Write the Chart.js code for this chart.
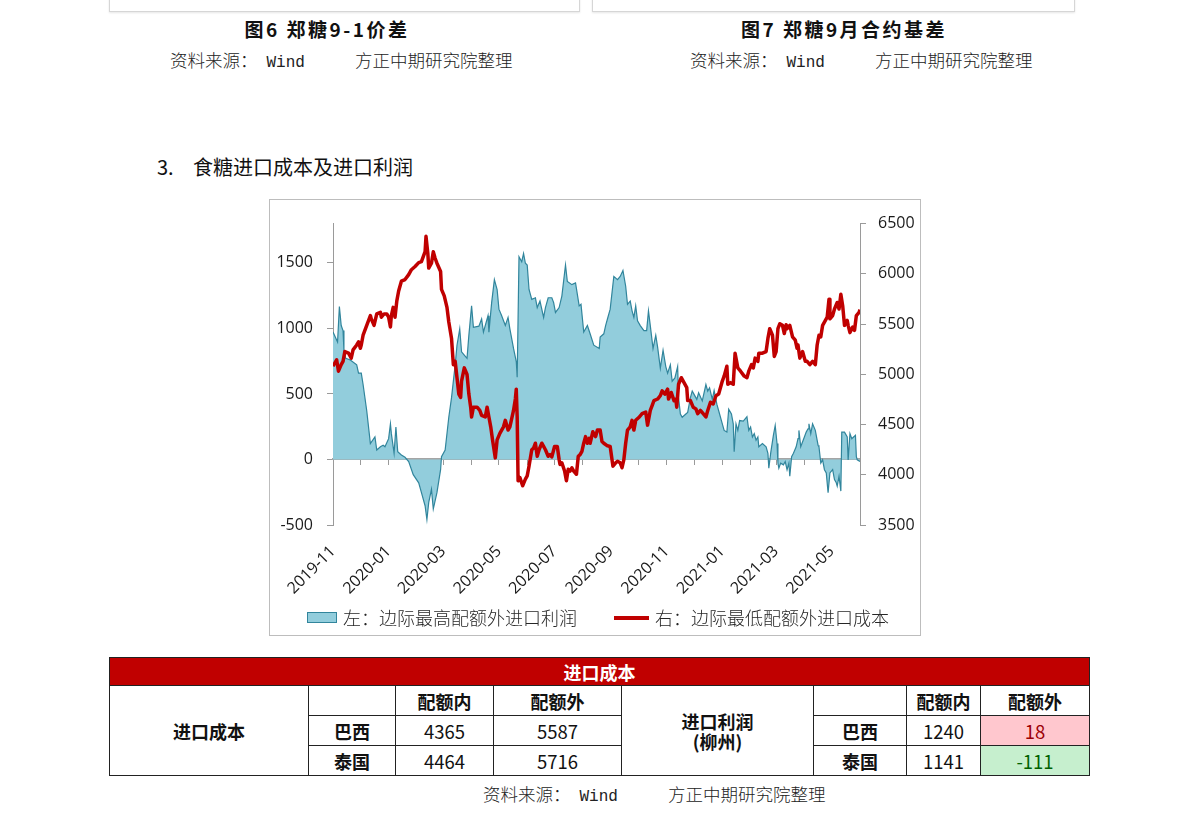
<!DOCTYPE html>
<html>
<head>
<meta charset="utf-8">
<script src="https://cdn.jsdelivr.net/npm/chart.js@4.4.1/dist/chart.umd.min.js"></script>
<style>
	body { margin: 0; width: 1191px; height: 824px; background: #fff; position: relative; overflow: hidden;
		font-family: "Noto Sans CJK SC", sans-serif; color: #111; }
	.frame { position: absolute; border: 1px solid #d6d6d6; box-shadow: 0 1px 2px rgba(0,0,0,0.10); }
	.cap { position: absolute; width: 300px; text-align: center; font-weight: bold; font-size: 19px;
		letter-spacing: 2.5px; line-height: 22px; white-space: pre; }
	.src { position: absolute; font-size: 17.5px; font-weight: 300; line-height: 22px; white-space: pre; color: #222; }
	.mono { font-family: "Liberation Mono", monospace; font-size: 16px; margin-left: 9px; }
	.gap { display: inline-block; width: 50px; }
	.head { position: absolute; top: 155px; font-size: 20px; line-height: 24px; white-space: pre; }
	#box { position: absolute; left: 269px; top: 199px; width: 650px; height: 435px; border: 1px solid #bdbdbd; }
	.lg { position: absolute; font-size: 18px; font-weight: 300; line-height: 22px; color: #262626; white-space: pre; }
	table { position: absolute; left: 109px; top: 657px; width: 980px; border-collapse: collapse; table-layout: fixed; }
	td { border: 1px solid #222; text-align: center; font-size: 18.5px; padding: 0; height: 29px; line-height: 20px; }
	td.b { font-weight: bold; font-size: 18px; }
	td.title { background: #c00000; color: #fff; font-weight: bold; font-size: 18px; height: 27px; }
	td.pink { background: #ffc7ce; color: #9c0006; }
	td.green { background: #c6efce; color: #006100; }
</style>
</head>
<body>

<div class="frame" style="left:109px;top:-20px;width:469px;height:30px;"></div>
<div class="frame" style="left:592px;top:-20px;width:481px;height:30px;"></div>

<div class="cap" style="left:177px;top:18px;">图6 郑糖9-1价差</div>
<div class="src" style="left:170px;top:49px;">资料来源：<span class="mono">Wind</span><span class="gap"> </span>方正中期研究院整理</div>
<div class="cap" style="left:694px;top:18px;">图7 郑糖9月合约基差</div>
<div class="src" style="left:690px;top:49px;">资料来源：<span class="mono">Wind</span><span class="gap"> </span>方正中期研究院整理</div>

<div class="head" style="left:157px;">3.</div>
<div class="head" style="left:193px;">食糖进口成本及进口利润</div>

<div id="box"><canvas id="chart" width="650" height="435"></canvas></div>

<!-- legend -->
<div style="position:absolute;left:307px;top:612px;width:30px;height:11px;box-sizing:border-box;background:#92cddc;border:1px solid #31859c;"></div>
<div class="lg" style="left:343px;top:606px;">左：边际最高配额外进口利润</div>
<div style="position:absolute;left:614px;top:616px;width:35px;height:4px;background:#c00000;"></div>
<div class="lg" style="left:655px;top:606px;">右：边际最低配额外进口成本</div>

<table>
	<colgroup>
		<col style="width:199px"><col style="width:87px"><col style="width:98px"><col style="width:128px">
		<col style="width:192px"><col style="width:93px"><col style="width:74px"><col style="width:109px">
	</colgroup>
	<tr><td class="title" colspan="8">进口成本</td></tr>
	<tr>
		<td class="b" rowspan="3">进口成本</td><td></td><td class="b">配额内</td><td class="b">配额外</td>
		<td class="b" rowspan="3">进口利润<br>(柳州)</td><td></td><td class="b">配额内</td><td class="b">配额外</td>
	</tr>
	<tr><td class="b">巴西</td><td>4365</td><td>5587</td><td class="b">巴西</td><td>1240</td><td class="pink">18</td></tr>
	<tr><td class="b">泰国</td><td>4464</td><td>5716</td><td class="b">泰国</td><td>1141</td><td class="green">-111</td></tr>
</table>

<div class="src" style="left:483px;top:783px;">资料来源：<span class="mono">Wind</span><span class="gap"> </span>方正中期研究院整理</div>

<script>
// x values are days counted from 2019-11-01
var monthDays = [0, 30, 61, 92, 121, 152, 182, 213, 243, 274, 305, 335, 366, 396, 427, 458, 486, 517, 547, 578];
var labelDays = [0, 61, 121, 182, 243, 305, 366, 427, 486, 547];
var xTickLabels = ['2019-11', '2020-01', '2020-03', '2020-05', '2020-07', '2020-09', '2020-11', '2021-01', '2021-03', '2021-05'];
var leftTicks = [-500, 0, 500, 1000, 1500];
var rightTicks = [3500, 4000, 4500, 5000, 5500, 6000, 6500];

// 左：边际最高配额外进口利润
var profitDays = [0,5,7,9,11,12,14,19,26,28,31,33,37,41,46,48,52,55,57,61,63,64,67,69,71,75,79,83,88,94,97,101,103,105,108,110,114,118,119,123,127,130,134,136,139,141,144,147,149,152,154,160,163,165,170,171,174,177,180,182,185,189,192,194,198,201,202,204,207,209,211,213,215,218,222,224,227,231,233,236,240,242,244,248,251,255,257,262,266,270,272,275,279,282,286,292,293,297,299,301,304,308,312,315,318,321,323,326,328,330,332,334,337,341,344,346,348,351,354,356,359,362,365,367,370,372,375,378,379,381,383,387,389,392,394,396,399,401,405,409,411,413,416,418,421,423,427,429,432,434,437,439,440,442,444,446,450,454,456,458,460,462,464,466,467,471,475,477,478,480,483,485,487,488,489,491,494,496,498,500,501,503,505,508,510,511,513,517,519,521,522,524,526,529,532,533,535,537,539,541,543,545,548,550,552,553,555,557,558,561,564,565,567,569,571,573,574,575,578];
var profitValues = [972,897,1167,1022,984,830,772,759,722,659,659,572,372,122,172,72,97,109,97,159,272,197,47,247,59,34,17,-16,-116,-178,-253,-353,-458,-328,-228,-378,-253,-78,22,72,322,472,722,872,997,822,797,772,947,1172,1009,1017,1072,972,1097,972,1197,1372,1297,1147,1097,1022,1084,997,847,747,627,1547,1509,1572,1497,1484,1297,1222,1234,1159,1209,1084,1159,1234,1234,1197,1122,1159,1247,1484,1359,1334,1347,1172,1184,972,1022,959,872,847,934,959,1022,1072,1147,1397,1372,1397,1442,1322,1184,1209,1134,1084,1172,1059,1022,984,984,1134,1022,847,947,859,697,834,709,659,722,597,622,709,472,347,322,347,359,472,522,497,459,509,447,572,522,547,459,527,422,372,272,222,209,384,347,272,59,272,222,297,292,327,222,247,172,197,147,172,97,122,97,47,-66,47,184,259,122,-28,-66,-28,-41,-16,-78,-28,-128,22,47,97,159,222,97,172,209,234,272,197,272,222,109,97,-28,-3,-78,-103,-253,-103,-78,-153,-178,-203,-128,-241,209,209,172,-3,197,159,172,184,22,-3,-16];

// 右：边际最低配额外进口成本
var costDays = [0,4,6,9,11,13,17,20,22,26,28,30,31,33,37,41,42,45,48,52,53,56,59,61,63,64,66,68,70,72,75,79,83,86,90,94,97,99,101,102,104,105,108,110,112,114,118,119,122,125,127,130,132,134,136,138,140,141,144,147,149,151,152,154,158,161,163,167,169,171,173,175,178,180,183,187,189,192,194,196,198,200,201,202,203,205,208,211,213,215,218,220,222,224,226,229,231,233,236,238,240,243,246,248,249,251,254,256,258,260,262,264,267,269,271,273,275,277,279,281,282,285,288,290,293,295,297,301,304,305,307,310,312,315,317,319,321,323,326,328,330,332,336,339,343,345,348,350,352,356,359,361,364,367,368,371,374,376,377,379,382,385,388,389,392,395,398,400,403,406,409,411,414,417,420,423,427,429,432,433,436,439,441,444,447,451,454,456,459,461,463,466,467,471,475,477,479,482,484,486,488,490,493,495,497,498,501,504,507,509,510,512,515,518,520,523,526,529,531,533,535,537,539,542,544,545,548,550,553,555,557,559,561,564,565,567,570,572,574,577,578];
var costValues = [5080,5145,5031,5096,5129,5226,5210,5161,5243,5292,5324,5259,5292,5389,5487,5585,5552,5487,5601,5617,5568,5601,5601,5568,5471,5585,5666,5568,5731,5829,5927,5943,5992,6041,6073,6112,6122,6171,6220,6373,6204,6057,6106,6220,6155,6106,6024,5845,5780,5666,5520,5357,5096,5129,4966,4803,4770,4933,5064,4998,4803,4673,4575,4673,4673,4640,4591,4575,4673,4575,4477,4347,4168,4347,4412,4477,4542,4445,4477,4559,4640,4754,4852,4575,3940,3972,3891,3956,3989,4086,4249,4265,4314,4184,4249,4314,4282,4249,4184,4200,4178,4282,4282,4151,4103,4119,4037,3940,4054,4037,4070,4037,4005,4184,4200,4233,4314,4380,4314,4363,4314,4428,4380,4445,4445,4331,4314,4288,4282,4217,4086,4119,4135,4119,4070,4151,4314,4445,4477,4542,4445,4542,4575,4608,4624,4494,4640,4689,4738,4754,4787,4836,4803,4852,4754,4819,4738,4754,4673,4901,4966,4917,4868,4738,4738,4673,4656,4608,4640,4608,4575,4640,4722,4705,4787,4803,4933,4982,5080,4901,4917,4901,5210,5064,5031,4982,4966,5031,5096,5064,5161,5129,5210,5210,5226,5357,5454,5389,5178,5226,5454,5503,5487,5406,5494,5454,5487,5373,5340,5259,5292,5161,5226,5129,5129,5096,5129,5096,5292,5389,5373,5487,5520,5568,5748,5552,5585,5650,5715,5650,5797,5683,5487,5536,5487,5415,5471,5438,5585,5617,5643];

var tickFont = { family: 'Open Sans', size: 16 };
var axisGrey = '#9a9a9a';

function points(days, values) {
	return days.map(function(d, i) { return { x: d, y: values[i] }; });
}
function useTicks(list) {
	return function(axis) {
		axis.ticks = list.map(function(v) { return { value: v }; });
	};
}

new Chart(document.getElementById('chart'), {
	type: 'line',
	data: {
		datasets: [{
			label: '左：边际最高配额外进口利润',
			data: points(profitDays, profitValues),
			yAxisID: 'y',
			borderColor: '#31859c',
			borderWidth: 1.2,
			backgroundColor: '#92cddc',
			fill: 'origin',
			pointRadius: 0,
			order: 2
		}, {
			label: '右：边际最低配额外进口成本',
			data: points(costDays, costValues),
			yAxisID: 'y2',
			borderColor: '#c00000',
			borderWidth: 3.5,
			borderJoinStyle: 'round',
			fill: false,
			pointRadius: 0,
			order: 1
		}]
	},
	options: {
		responsive: false,
		animation: false,
		devicePixelRatio: 1,
		layout: { padding: { top: 18, left: 0, right: 0, bottom: 30 } },
		plugins: {
			tooltip: { enabled: false },
			legend: { display: false }
		},
		scales: {
			x: {
				type: 'linear',
				position: 'bottom',
				min: 0,
				max: 578,
				afterBuildTicks: useTicks(labelDays),
				afterFit: function(axis) { axis.height = 80; },
				grid: { display: false },
				border: { display: false },
				ticks: {
					autoSkip: false,
					minRotation: 45,
					maxRotation: 45,
					padding: 9,
					color: '#1a1a1a',
					font: tickFont,
					callback: function(value, index) { return xTickLabels[index]; }
				}
			},
			x2: {
				type: 'linear',
				position: { y: 0 },
				min: 0,
				max: 578,
				afterBuildTicks: useTicks(monthDays),
				grid: { drawOnChartArea: false, tickLength: 5, color: axisGrey },
				border: { color: '#a5a5a5', width: 2 },
				ticks: { display: false }
			},
			y: {
				position: 'left',
				min: -500,
				max: 1800,
				afterBuildTicks: useTicks(leftTicks),
				afterFit: function(axis) { axis.width = 63; },
				grid: { drawOnChartArea: false, tickLength: 6, color: axisGrey },
				border: { color: axisGrey },
				ticks: {
					autoSkip: false, padding: 14, color: '#1a1a1a', font: tickFont,
					callback: function(value) { return String(value); }
				}
			},
			y2: {
				position: 'right',
				min: 3500,
				max: 6500,
				afterBuildTicks: useTicks(rightTicks),
				afterFit: function(axis) { axis.width = 60; },
				grid: { drawOnChartArea: false, tickLength: 6, color: axisGrey },
				border: { color: axisGrey },
				ticks: {
					autoSkip: false, padding: 12, color: '#1a1a1a', font: tickFont,
					callback: function(value) { return String(value); }
				}
			}
		}
	}
});
</script>
</body>
</html>
